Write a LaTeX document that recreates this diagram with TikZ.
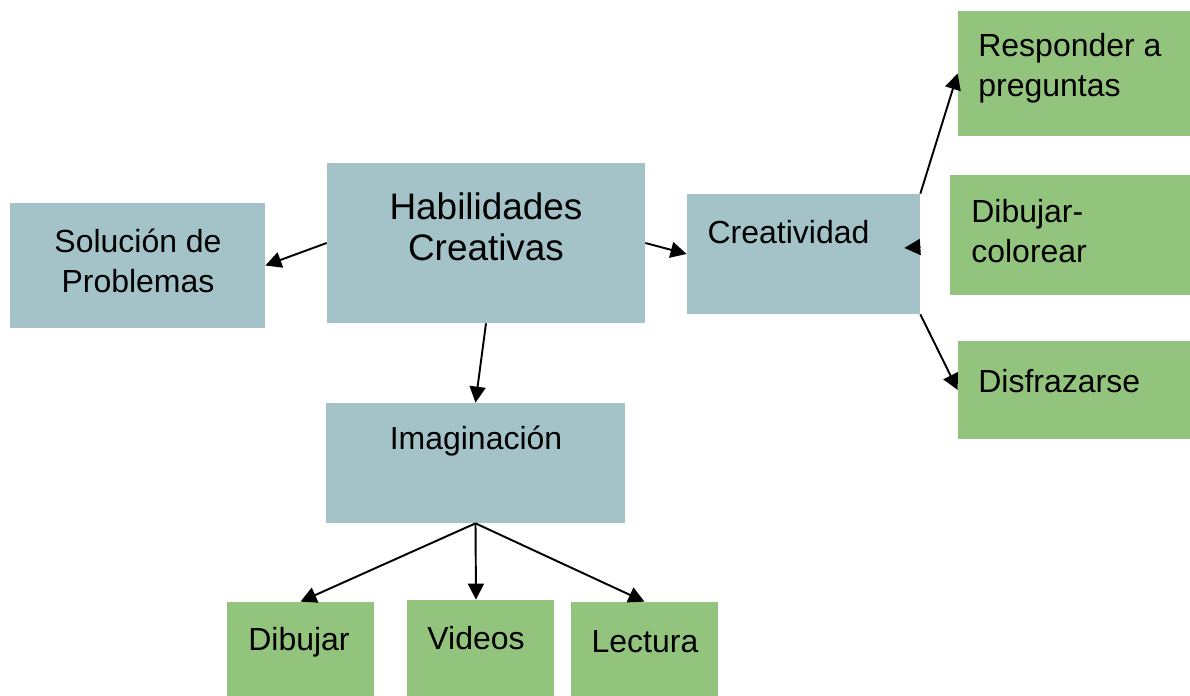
\documentclass[tikz,border=0pt]{standalone}
\usepackage{fontspec}
\setmainfont{Liberation Sans}
\usetikzlibrary{arrows.meta}

\definecolor{boxblue}{HTML}{A4C3C8}
\definecolor{boxgreen}{HTML}{93C47D}

\begin{document}
\begin{tikzpicture}[
    bluebox/.style={rectangle, fill=boxblue, draw=none, inner sep=0pt},
    greenbox/.style={rectangle, fill=boxgreen, draw=none, inner sep=0pt},
    txt/.style={inner sep=0pt, font=\fontsize{18.2}{23}\selectfont},
    bigtxt/.style={inner sep=0pt, align=center, font=\fontsize{21}{23.5}\selectfont},
    arr/.style={line width=1.1pt, -{Triangle[length=0.32cm,width=0.32cm]}}
  ]
  \useasboundingbox (0cm,0cm) rectangle (23.8cm,-13.92cm);
  % blue boxes
  \node[bluebox, minimum width=5.1cm, minimum height=2.5cm] (sol) at (2.75cm,-5.31cm) {};
  \node[bluebox, minimum width=6.36cm, minimum height=3.2cm] (hab) at (9.72cm,-4.86cm) {};
  \node[bluebox, minimum width=4.66cm, minimum height=2.4cm] (crea) at (16.07cm,-5.08cm) {};
  \node[bluebox, minimum width=5.98cm, minimum height=2.4cm] (imag) at (9.51cm,-9.26cm) {};
  % green boxes
  \node[greenbox, minimum width=4.64cm, minimum height=2.5cm] (resp) at (21.48cm,-1.47cm) {};
  \node[greenbox, minimum width=4.8cm, minimum height=2.4cm] (dibcol) at (21.4cm,-4.7cm) {};
  \node[greenbox, minimum width=4.64cm, minimum height=1.96cm] (disf) at (21.48cm,-7.8cm) {};
  \node[greenbox, minimum width=2.94cm, minimum height=1.88cm] (dib) at (6.01cm,-12.98cm) {};
  \node[greenbox, minimum width=2.94cm, minimum height=1.92cm] (vid) at (9.61cm,-12.96cm) {};
  \node[greenbox, minimum width=2.94cm, minimum height=1.88cm] (lec) at (12.89cm,-12.98cm) {};
  % texts
  \node[txt, align=center] (soltxt) at (2.76cm,-5.22cm) {Solución de\\Problemas};
  \node[bigtxt] (habtxt) at (9.72cm,-4.54cm) {Habilidades\\Creativas};
  \node[txt] (creatxt) at (15.77cm,-4.64cm) {Creatividad};
  \node[txt] (imagtxt) at (9.52cm,-8.82cm) {Imaginación};
  \node[txt, align=left, anchor=west] (resptxt) at (19.56cm,-1.36cm) {Responder a\\preguntas};
  \node[txt, align=left, anchor=west] (dibcoltxt) at (19.42cm,-4.62cm) {Dibujar-\\colorear};
  \node[txt, anchor=west] (disftxt) at (19.56cm,-7.62cm) {Disfrazarse};
  \node[txt] (dibtxt) at (5.98cm,-12.84cm) {Dibujar};
  \node[txt] (vidtxt) at (9.52cm,-12.76cm) {Videos};
  \node[txt] (lectxt) at (12.9cm,-12.84cm) {Lectura};
  % connectors
  \draw[arr] (hab.west) -- (sol.east);
  \draw[arr] (hab.east) -- (crea.west);
  \draw[arr] (hab.south) -- (imag.north);
  \draw[arr] (crea.north east) -- (resp.west);
  \draw[arr] (crea.south east) -- (disf.west);
  \draw[arr] ([yshift=0.14cm]crea.east) -- ++(-0.32cm,-0.02cm);
  \draw[arr] (imag.south) -- (dib.north);
  \draw[arr] (imag.south) -- ([xshift=-0.09cm]vid.north);
  \draw[arr] (imag.south) -- (lec.north);
\end{tikzpicture}
\end{document}
